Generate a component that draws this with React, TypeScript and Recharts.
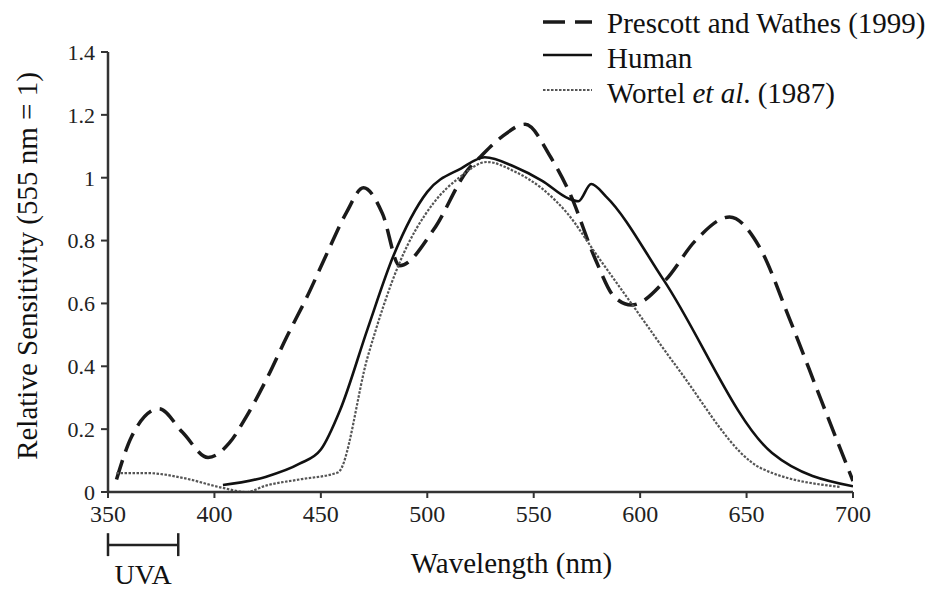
import { Label, Line, LineChart, ReferenceLine, XAxis, YAxis } from "recharts";

const wavelengthTicks = [350, 400, 450, 500, 550, 600, 650, 700];
const sensitivityTicks = [0, 0.2, 0.4, 0.6, 0.8, 1, 1.2, 1.4];

const prescottNm = [354, 361, 374, 385, 397, 407, 415, 425, 434, 443.5, 453, 462, 470, 479, 487, 503, 519, 525, 535, 546, 558, 567, 579, 588, 596, 612, 626, 642, 656, 670, 685, 700];
const prescottVal = [0.04, 0.175, 0.265, 0.19, 0.11, 0.156, 0.24, 0.366, 0.494, 0.621, 0.761, 0.889, 0.968, 0.885, 0.72, 0.835, 1.025, 1.067, 1.13, 1.17, 1.065, 0.95, 0.74, 0.62, 0.595, 0.675, 0.8, 0.875, 0.78, 0.554, 0.293, 0.035];

const humanNm = [404, 424, 440, 450, 459, 472, 484, 500, 516, 527, 541, 554, 566, 571, 577, 584, 611, 662, 700];
const humanVal = [0.022, 0.048, 0.09, 0.135, 0.26, 0.52, 0.75, 0.955, 1.03, 1.065, 1.035, 0.99, 0.935, 0.925, 0.98, 0.94, 0.675, 0.124, 0.018];

const wortelNm = [354, 369, 385, 404, 415, 424, 440, 458, 472, 487, 503, 515, 528, 541, 554, 566, 579, 598, 617, 657, 694];
const wortelVal = [0.06, 0.06, 0.045, 0.013, 0.0, 0.02, 0.04, 0.062, 0.43, 0.73, 0.92, 1.0, 1.05, 1.02, 0.965, 0.885, 0.76, 0.58, 0.4, 0.075, 0.016];

// UVA bracket under the axis (nm range)
const uvaRange = [350, 383];

const zip = (nm: number[], v: number[]) => nm.map((x, i) => ({ nm: x, v: v[i] }));

const series = [
  { key: "prescott", data: zip(prescottNm, prescottVal), stroke: "#1a1a1a", width: 3.5, dash: "20 9" },
  { key: "human", data: zip(humanNm, humanVal), stroke: "#111", width: 2.6, dash: undefined },
  { key: "wortel", data: zip(wortelNm, wortelVal), stroke: "#555", width: 2.2, dash: "2.5 1.5" }
];

const font = '"Liberation Serif"';
const axisColor = "#333";

const fontCss = `
#root .fig, #root .fig *, #root .fig svg text, #root .fig svg tspan {
  font-family: "Liberation Serif", "Times New Roman", Tinos, serif !important;
}
`;

function LegendBox() {
  const rows = [
    { sample: series[0], text: <>Prescott and Wathes (1999)</> },
    { sample: series[1], text: <>Human</> },
    { sample: series[2], text: <>Wortel <i>et al</i>. (1987)</> }
  ];
  return (
    <div style={{ position: "absolute", left: 535, top: 6, fontSize: 29, color: "#111" }}>
      {rows.map((r, i) => (
        <div key={i} style={{ display: "flex", alignItems: "center", height: 35 }}>
          <svg width={64} height={20} style={{ marginTop: i === 0 ? -4 : -8 }}>
            <line x1={8} x2={57} y1={10} y2={10} stroke={r.sample.stroke} strokeWidth={r.sample.width}
              strokeDasharray={r.sample.dash ? (i === 0 ? "22 10" : r.sample.dash) : undefined} />
          </svg>
          <span style={{ marginLeft: 8, whiteSpace: "nowrap" }}>{r.text}</span>
        </div>
      ))}
    </div>
  );
}

export default function App() {
  return (
    <div className="fig" style={{ position: "absolute", left: 0, top: 0, width: 945, height: 590, background: "#fff", fontFamily: font }}>
      <style>{fontCss}</style>
      <LineChart width={945} height={590} margin={{ top: 52, right: 92, left: 0, bottom: 0 }}>
        <XAxis
          type="number"
          dataKey="nm"
          domain={[350, 700]}
          ticks={wavelengthTicks}
          allowDataOverflow
          height={98}
          tickSize={6}
          tickMargin={7}
          axisLine={{ stroke: axisColor, strokeWidth: 2.5 }}
          tickLine={{ stroke: axisColor, strokeWidth: 2 }}
          tick={{ fontSize: 24, fill: "#222", fontFamily: font }}
        >
          <Label
            content={({ viewBox }: any) => (
              <text x={viewBox.x + viewBox.width / 2 + 31} y={viewBox.y + 81} textAnchor="middle"
                fontFamily={font} fontSize={29} fill="#111">
                Wavelength (nm)
              </text>
            )}
          />
        </XAxis>
        <YAxis
          type="number"
          domain={[0, 1.4]}
          ticks={sensitivityTicks}
          width={108}
          tickSize={7}
          tickMargin={6}
          axisLine={{ stroke: axisColor, strokeWidth: 2.5 }}
          tickLine={{ stroke: axisColor, strokeWidth: 2 }}
          tick={{ fontSize: 22, fill: "#222", fontFamily: font }}
          tickFormatter={(v: number) => (v === 0 || v === 1 ? String(v) : v.toFixed(1))}
        >
          <Label
            content={({ viewBox }: any) => {
              const cx = viewBox.x + 27;
              const cy = viewBox.y + viewBox.height / 2 - 6;
              return (
                <text x={cx} y={cy} textAnchor="middle" dominantBaseline="central"
                  transform={`rotate(-90 ${cx} ${cy})`} fontFamily={font} fontSize={29} fill="#111">
                  Relative Sensitivity (555 nm = 1)
                </text>
              );
            }}
          />
        </YAxis>
        {series.map((s) => (
          <Line
            key={s.key}
            data={s.data}
            dataKey="v"
            type="monotone"
            stroke={s.stroke}
            strokeWidth={s.width}
            strokeDasharray={s.dash}
            dot={false}
            activeDot={false}
            isAnimationActive={false}
          />
        ))}
        <ReferenceLine
          segment={[{ x: uvaRange[0], y: -0.169 }, { x: uvaRange[1], y: -0.169 }]}
          ifOverflow="visible"
          stroke="#222"
          strokeWidth={2.5}
          label={{ value: "UVA", position: "bottom", offset: 19, fontSize: 28, fill: "#111", fontFamily: font }}
        />
        <ReferenceLine
          segment={[{ x: uvaRange[0], y: -0.131 }, { x: uvaRange[0], y: -0.204 }]}
          ifOverflow="visible"
          stroke="#222"
          strokeWidth={2.5}
        />
        <ReferenceLine
          segment={[{ x: uvaRange[1], y: -0.131 }, { x: uvaRange[1], y: -0.204 }]}
          ifOverflow="visible"
          stroke="#222"
          strokeWidth={2.5}
        />
      </LineChart>
      <LegendBox />
    </div>
  );
}
